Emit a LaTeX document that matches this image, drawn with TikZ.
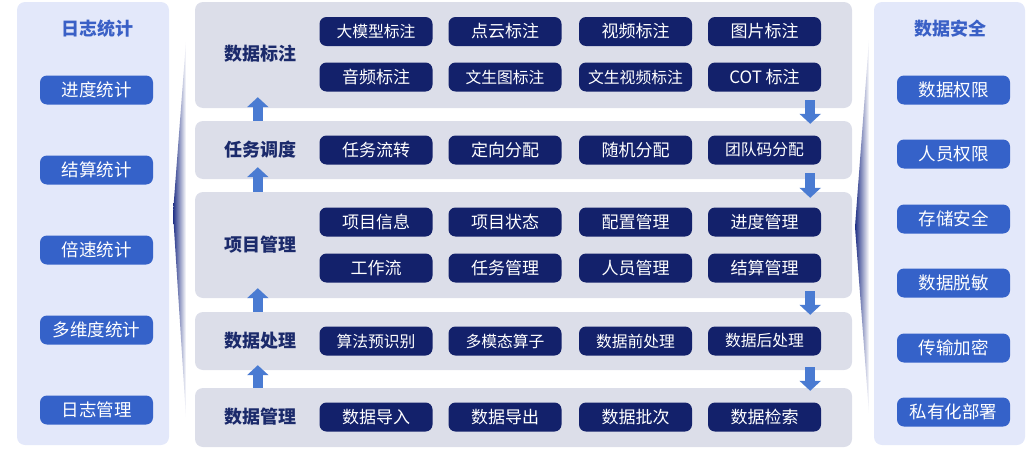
\documentclass[tikz,border=0pt]{standalone}
\usepackage{fontspec}
\setmainfont{Noto Sans CJK SC}
\usetikzlibrary{arrows.meta,calc}
\definecolor{panelbg}{HTML}{E3E8FA}
\definecolor{rowbg}{HTML}{DCDEE9}
\definecolor{navy}{HTML}{13216B}
\definecolor{navytxt}{HTML}{1B2A6B}
\definecolor{midblue}{HTML}{3562C9}
\definecolor{titleblue}{HTML}{3A60C6}
\definecolor{arrowblue}{HTML}{4A7BD2}
\definecolor{wedgedark}{HTML}{1F2F85}
\tikzset{
  panel/.style={fill=panelbg, rounded corners=8pt, minimum width=152pt, minimum height=443pt, inner sep=0pt},
  rowbox/.style={fill=rowbg, rounded corners=8pt, minimum width=657pt, inner sep=0pt},
  cbtn/.style={fill=navy, rounded corners=7pt, minimum width=113pt, minimum height=29pt, inner sep=0pt, text=white, font=\fontsize{17}{20}\selectfont},
  sbtn/.style={fill=midblue, rounded corners=7pt, minimum width=113pt, minimum height=29pt, inner sep=0pt, text=white, font=\fontsize{17.5}{20}\selectfont},
  small/.style={font=\fontsize{15.8}{19}\selectfont},
  rowlabel/.style={text=navytxt, font=\fontsize{18}{21}\selectfont\bfseries},
  ptitle/.style={text=titleblue, font=\fontsize{18}{21}\selectfont\bfseries},
  blockarrow/.style={draw=arrowblue, line width=10pt, -{Triangle[width=21pt,length=10pt]}, shorten >=0pt},
  wedge/.style={left color=wedgedark, middle color=wedgedark!55, right color=white},
}
\begin{document}
\begin{tikzpicture}[x=1pt,y=-1pt]
\useasboundingbox (0,0) rectangle (1026,455);
% side panels
\node[panel] (lp) at (93,223.5) {};
\node[panel, minimum width=151pt] (rp) at (949.5,223.5) {};
% wedges
\shade[wedge] (186,42) -- (173,213) -- (186,417) -- cycle;
\shade[wedge] (869,40) -- (855,227) -- (869,413) -- cycle;
% rows
\node[rowbox, minimum height=106pt] (r1) at (523.5,55) {};
\node[rowbox, minimum height=58pt] (r2) at (523.5,150) {};
\node[rowbox, minimum height=106pt] (r3) at (523.5,245) {};
\node[rowbox, minimum height=58pt] (r4) at (523.5,341) {};
\node[rowbox, minimum height=59pt] (r5) at (523.5,417.5) {};
% row labels
\node[rowlabel] (l1) at (260,54) {数据标注};
\node[rowlabel] (l2) at (260,150) {任务调度};
\node[rowlabel] (l3) at (260,245) {项目管理};
\node[rowlabel] (l4) at (260,341) {数据处理};
\node[rowlabel] (l5) at (260,417) {数据管理};
% row 1
\node[cbtn, small] (a1) at (376,31.5) {大模型标注};
\node[cbtn] (a2) at (505,31.5) {点云标注};
\node[cbtn] (a3) at (635.5,31.5) {视频标注};
\node[cbtn] (a4) at (764.5,31.5) {图片标注};
\node[cbtn] (a5) at (376,77) {音频标注};
\node[cbtn, small] (a6) at (505,77) {文生图标注};
\node[cbtn, small] (a7) at (635.5,77) {文生视频标注};
\node[cbtn] (a8) at (764.5,77) {COT 标注};
% row 2
\node[cbtn] (b1) at (376,150) {任务流转};
\node[cbtn] (b2) at (505,150) {定向分配};
\node[cbtn] (b3) at (635.5,150) {随机分配};
\node[cbtn, small] (b4) at (764.5,150) {团队码分配};
% row 3
\node[cbtn] (c1) at (376,222) {项目信息};
\node[cbtn] (c2) at (505,222) {项目状态};
\node[cbtn] (c3) at (635.5,222) {配置管理};
\node[cbtn] (c4) at (764.5,222) {进度管理};
\node[cbtn] (c5) at (376,268) {工作流};
\node[cbtn] (c6) at (505,268) {任务管理};
\node[cbtn] (c7) at (635.5,268) {人员管理};
\node[cbtn] (c8) at (764.5,268) {结算管理};
% row 4
\node[cbtn, small] (d1) at (376,341) {算法预识别};
\node[cbtn, small] (d2) at (505,341) {多模态算子};
\node[cbtn, small] (d3) at (635.5,341) {数据前处理};
\node[cbtn, small] (d4) at (764.5,341) {数据后处理};
% row 5
\node[cbtn] (e1) at (376,417) {数据导入};
\node[cbtn] (e2) at (505,417) {数据导出};
\node[cbtn] (e3) at (635.5,417) {数据批次};
\node[cbtn] (e4) at (764.5,417) {数据检索};
% left panel
\node[ptitle] (lt) at (97,29) {日志统计};
\node[sbtn] (s1) at (96.5,90) {进度统计};
\node[sbtn] (s2) at (96.5,170) {结算统计};
\node[sbtn] (s3) at (96.5,250) {倍速统计};
\node[sbtn] (s4) at (96.5,330) {多维度统计};
\node[sbtn] (s5) at (96.5,410) {日志管理};
% right panel
\node[ptitle] (rt) at (950,29) {数据安全};
\node[sbtn] (t1) at (953.5,90) {数据权限};
\node[sbtn] (t2) at (953.5,154) {人员权限};
\node[sbtn] (t3) at (953.5,219) {存储安全};
\node[sbtn] (t4) at (953.5,283) {数据脱敏};
\node[sbtn] (t5) at (953.5,348) {传输加密};
\node[sbtn] (t6) at (953.5,412) {私有化部署};
% up arrows (left)
\draw[blockarrow] ($(r2.north west)+(63,0)$) -- ($(r1.south west)+(63,-11)$);
\draw[blockarrow] ($(r3.north west)+(63,0)$) -- ($(r2.south west)+(63,-12)$);
\draw[blockarrow] ($(r4.north west)+(63,0)$) -- ($(r3.south west)+(63,-10)$);
\draw[blockarrow] ($(r5.north west)+(63,0)$) -- ($(r4.south west)+(63,-5)$);
% down arrows (right)
\draw[blockarrow] ($(r1.south east)+(-42,-8)$) -- ($(r2.north east)+(-42,3)$);
\draw[blockarrow] ($(r2.south east)+(-42,-6)$) -- ($(r3.north east)+(-42,6)$);
\draw[blockarrow] ($(r3.south east)+(-42,-7)$) -- ($(r4.north east)+(-42,3)$);
\draw[blockarrow] ($(r4.south east)+(-42,-3)$) -- ($(r5.north east)+(-42,3)$);
\end{tikzpicture}
\end{document}
